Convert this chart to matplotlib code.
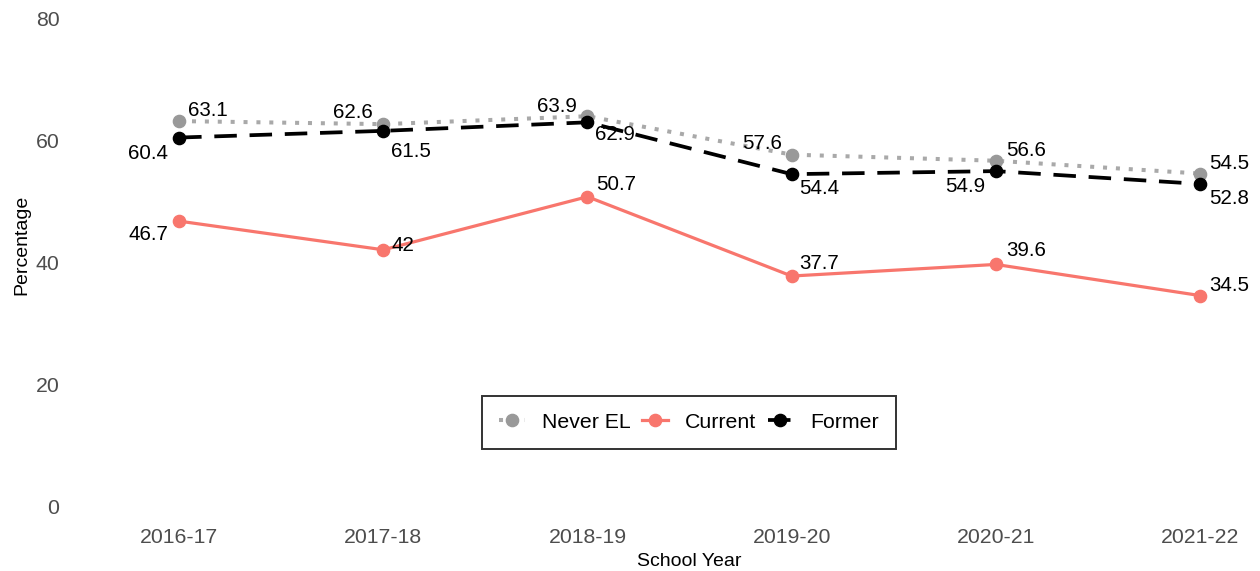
import matplotlib
matplotlib.use("Agg")
import matplotlib.pyplot as plt
from matplotlib.lines import Line2D

plt.rcParams['font.family'] = ['Liberation Sans', 'DejaVu Sans']

years = ["2016-17", "2017-18", "2018-19", "2019-20", "2020-21", "2021-22"]
never_el = [63.1, 62.6, 63.9, 57.6, 56.6, 54.5]
current = [46.7, 42, 50.7, 37.7, 39.6, 34.5]
former = [60.4, 61.5, 62.9, 54.4, 54.9, 52.8]
y_ticks = [0, 20, 40, 60, 80]

# label offsets in pixels (dx, dy, ha) -- style only
never_off = [(9, 11, 'left'), (-11, 12, 'right'), (-11, 10, 'right'), (-10, 11, 'right'), (10, 10, 'left'), (9, 10, 'left')]
former_off = [(-11, -16, 'right'), (8, -21, 'left'), (8, -12, 'left'), (8, -14, 'left'), (-11, -15, 'right'), (9, -15, 'left')]
current_off = [(-11, -13, 'right'), (8, 4, 'left'), (9, 12, 'left'), (8, 13, 'left'), (10, 14, 'left'), (9, 10, 'left')]

W, H = 1260, 571
fig = plt.figure(figsize=(W / 100, H / 100), dpi=100)
ax_left, ax_right = 65, 1250
ylo, yhi = -2, 82
top_px = 18 - 2 * 6.1
bot_px = 506 + 2 * 6.1
ax = fig.add_axes([ax_left / W, 1 - bot_px / H, (ax_right - ax_left) / W, (bot_px - top_px) / H])

x = list(range(len(years)))
gray = "#999999"
salmon = "#F8766D"

ax.plot(x, never_el, color="#A9A9A9", linestyle=(0, (1, 2.2)), linewidth=2.9, zorder=2, dash_capstyle='butt')
ax.plot(x, never_el, 'o', color=gray, markersize=8.8, zorder=3)
ax.plot(x, current, '-', color=salmon, linewidth=2.3, zorder=2)
ax.plot(x, current, 'o', color=salmon, markersize=8.8, zorder=3)
ax.plot(x, former, color="black", linestyle=(0, (6, 3.4)), linewidth=2.7, zorder=4)
ax.plot(x, former, 'o', color="black", markersize=8.8, zorder=5)

def labels(vals, offs):
    for xi, v, (dx, dy, ha) in zip(x, vals, offs):
        ax.annotate(f"{v:g}", (xi, v), xytext=(dx * 0.72, dy * 0.72), textcoords='offset points',
                    ha=ha, va='center', fontsize=14.8, color='black', zorder=6)

labels(never_el, never_off)
labels(former, former_off)
labels(current, current_off)

ax.set_xlim(-(179 - ax_left) / 204, 5 + (ax_right - 1200) / 204)
ax.set_ylim(ylo, yhi)
ax.set_xticks(x)
ax.set_xticklabels(years)
ax.set_yticks(y_ticks)
ax.tick_params(axis='both', length=0, labelsize=15.3, labelcolor="#4D4D4D")
ax.tick_params(axis='x', pad=7)
ax.tick_params(axis='y', pad=4)
for s in ax.spines.values():
    s.set_visible(False)

fig.text(689 / W, 1 - 561 / H, "School Year", ha='center', va='center', fontsize=14, color='black')
fig.text(22 / W, 1 - 245 / H, "Percentage", ha='center', va='center', rotation=90, fontsize=14, color='black')

handles = [
    Line2D([], [], color="#A9A9A9", linestyle=(0, (1, 2.2)), linewidth=2.9, marker='o',
           markerfacecolor=gray, markeredgecolor=gray, markersize=8.8),
    Line2D([], [], color=salmon, linewidth=2.3, marker='o', markersize=8.8),
    Line2D([], [], color="black", linestyle=(0, (6, 3.4)), linewidth=2.7, marker='o', markersize=8.8),
]
leg = fig.legend(handles, ["Never EL", "Current", "Former"], loc='center',
                 bbox_to_anchor=(689 / W, 1 - 422 / H), ncol=3, frameon=True, fancybox=False,
                 fontsize=15.3, handlelength=1.2, handletextpad=0.8, columnspacing=0.55,
                 borderpad=0.8, borderaxespad=0, edgecolor='black')
leg.get_frame().set_linewidth(1.4)

fig.savefig("out.png", dpi=100, facecolor='white')
